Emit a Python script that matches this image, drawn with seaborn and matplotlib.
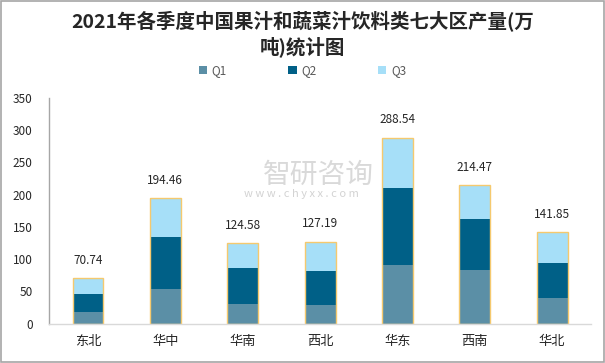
import matplotlib
matplotlib.use("Agg")
import matplotlib.pyplot as plt
import seaborn as sns
import numpy as np
import pandas as pd
from matplotlib.patches import Patch

regions = ["东北", "华中", "华南", "西北", "华东", "西南", "华北"]
q1 = [18.5, 54.0, 30.0, 29.0, 91.0, 83.5, 39.0]
q2 = [27.5, 80.0, 56.5, 53.0, 120.0, 78.0, 55.0]
totals = [70.74, 194.46, 124.58, 127.19, 288.54, 214.47, 141.85]
q3 = [round(t - a - b, 2) for t, a, b in zip(totals, q1, q2)]
series = ["Q1", "Q2", "Q3"]
title = "2021年各季度中国果汁和蔬菜汁饮料类七大区产量(万\n吨)统计图"

colors = {"Q1": "#5B8FA6", "Q2": "#006087", "Q3": "#A6DFF8"}
edge_gold = "#F5C96E"

sns.set_theme(style="white")
plt.rcParams["font.family"] = ["Noto Sans CJK SC", "DejaVu Sans"]

df = pd.DataFrame({"region": regions, "Q1": q1, "Q2": q2, "Q3": q3, "total": totals})
df["c1"] = df["Q1"]
df["c2"] = df["Q1"] + df["Q2"]
df["c3"] = df["Q1"] + df["Q2"] + df["Q3"]

fig = plt.figure(figsize=(6.05, 3.63), dpi=100)
ax = fig.add_axes([0.0815, 0.1088, 0.895, 0.6212])

w = 0.4
sns.barplot(data=df, x="region", y="c3", color=colors["Q3"], width=w, ax=ax,
            saturation=1, linewidth=0, errorbar=None)
sns.barplot(data=df, x="region", y="c2", color=colors["Q2"], width=w, ax=ax,
            saturation=1, linewidth=0, errorbar=None)
sns.barplot(data=df, x="region", y="c1", color=colors["Q1"], width=w, ax=ax,
            saturation=1, linewidth=0, errorbar=None)
sns.barplot(data=df, x="region", y="total", width=w, ax=ax, fill=False,
            edgecolor=edge_gold, linewidth=1.0, errorbar=None)

for i, t in enumerate(totals):
    ax.annotate(f"{t:.2f}", (i, t), xytext=(0, 8), textcoords="offset points",
                ha="center", va="bottom", fontsize=8.5, color="#262626")

ax.set_xlim(-0.5, 6.5)
ax.set_ylim(0, 350)
ax.set_yticks(np.arange(0, 351, 50))
ax.set_xlabel("")
ax.set_ylabel("")
ax.tick_params(axis="y", labelsize=8.5, colors="#262626", length=0, pad=12)
ax.tick_params(axis="x", labelsize=9.5, colors="#262626", length=0, pad=8)
for s in ["top", "right"]:
    ax.spines[s].set_visible(False)
ax.spines["left"].set_color("#A6A6A6")
ax.spines["left"].set_linewidth(1.0)
ax.spines["bottom"].set_color("#D9D9D9")
ax.spines["bottom"].set_linewidth(1.0)
ax.grid(False)

handles = [Patch(facecolor=colors[s], edgecolor="none") for s in series]
fig.legend(handles, series, loc="center", bbox_to_anchor=(0.5, 0.805), ncol=3,
           frameon=False, fontsize=8.5, handlelength=0.7, handleheight=0.7,
           handletextpad=0.4, columnspacing=5.2, labelcolor="#595959")

fig.text(0.5, 0.908, title, ha="center", va="center", fontsize=14,
         fontweight="bold", color="#262626", linespacing=1.3)

# watermark
fig.text(0.526, 0.518, "智研咨询", ha="center", va="center", fontsize=20,
         color="#D0D0D0", alpha=0.8)
fig.text(0.499, 0.466, "w w w . c h y x x . c o m", ha="center", va="center",
         fontsize=8, color="#C8C8C8", alpha=0.8)

fig.patches.append(plt.Rectangle((0.001, 0.002), 0.997, 0.995, transform=fig.transFigure,
                                 fill=False, edgecolor="#A6A6A6", linewidth=1.2))

fig.savefig("out.png", dpi=100)
